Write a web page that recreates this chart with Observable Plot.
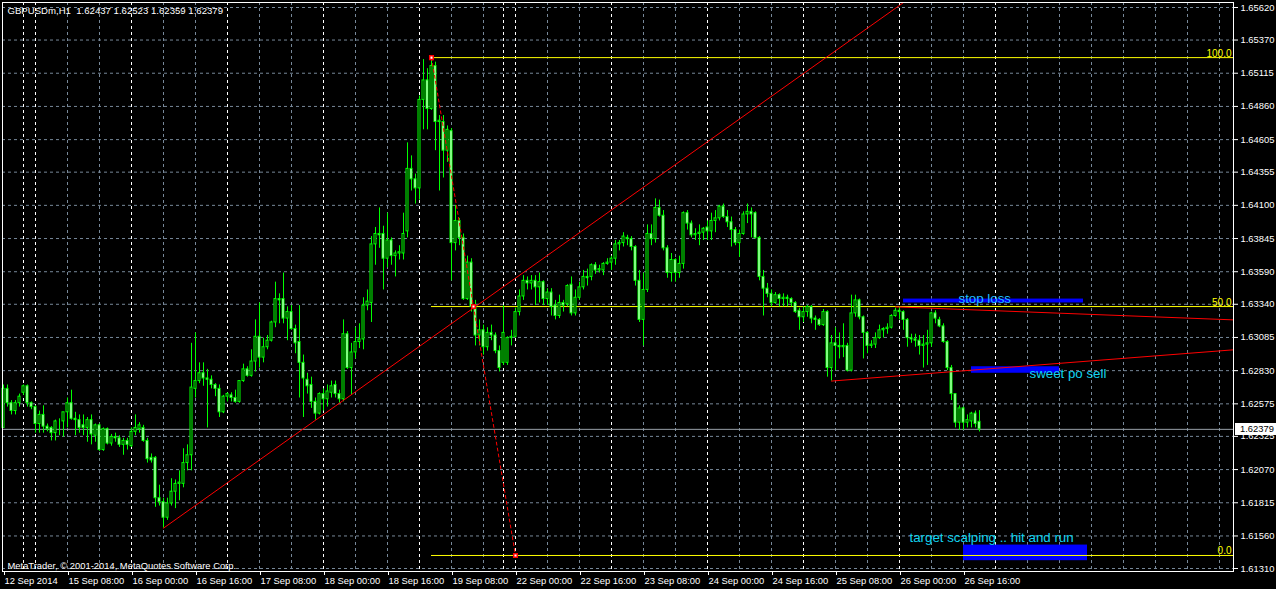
<!DOCTYPE html>
<html><head><meta charset="utf-8">
<script src="https://cdn.jsdelivr.net/npm/d3@7"></script>
<script src="https://cdn.jsdelivr.net/npm/@observablehq/plot@0.6"></script>
<style>
html,body{margin:0;padding:0;background:#000;}
#chart{width:1276px;height:589px;overflow:hidden;}
</style></head><body><div id="chart"></div>
<script>
const symbol = "GBPUSDm", timeframe = "H1";
const copyright = "MetaTrader, © 2001-2014, MetaQuotes Software Corp.";

const open = [
1.6239,1.6269,1.6258,1.6252,1.6258,1.6266,1.6271,1.6258,1.6255,1.6242,
1.6249,1.6240,1.6239,1.6235,1.6245,1.6244,1.6251,1.6258,1.6246,1.6245,
1.6241,1.6239,1.6245,1.6233,1.6241,1.6222,1.6238,1.6227,1.6232,1.6231,
1.6226,1.6229,1.6225,1.6236,1.6238,1.6239,1.6229,1.6216,1.6216,1.6185,
1.6182,1.6170,1.6181,1.6190,1.6196,1.6196,1.6212,1.6218,1.6269,1.6275,
1.6281,1.6277,1.6276,1.6272,1.6269,1.6251,1.6263,1.6264,1.6262,1.6259,
1.6275,1.6284,1.6279,1.6290,1.6309,1.6293,1.6301,1.6306,1.6320,1.6338,
1.6338,1.6323,1.6328,1.6315,1.6305,1.6289,1.6276,1.6272,1.6259,1.6250,
1.6265,1.6261,1.6266,1.6272,1.6265,1.6261,1.6311,1.6285,1.6297,1.6305,
1.6307,1.6333,1.6335,1.6380,1.6388,1.6388,1.6369,1.6383,1.6371,1.6373,
1.6373,1.6390,1.6438,1.6430,1.6423,1.6491,1.6506,1.6484,1.6517,1.6474,
1.6474,1.6452,1.6467,1.6381,1.6398,1.6385,1.6338,1.6366,1.6332,1.6310,
1.6314,1.6301,1.6312,1.6310,1.6298,1.6289,1.6289,1.6308,1.6309,1.6328,
1.6340,1.6352,1.6350,1.6352,1.6347,1.6351,1.6338,1.6343,1.6333,1.6325,
1.6335,1.6334,1.6349,1.6327,1.6339,1.6347,1.6355,1.6355,1.6364,1.6360,
1.6360,1.6365,1.6366,1.6369,1.6380,1.6381,1.6385,1.6384,1.6378,1.6352,
1.6322,1.6345,1.6388,1.6384,1.6408,1.6402,1.6377,1.6358,1.6368,1.6358,
1.6365,1.6404,1.6396,1.6387,1.6388,1.6389,1.6393,1.6390,1.6398,1.6400,
1.6409,1.6401,1.6397,1.6391,1.6381,1.6388,1.6403,1.6405,1.6404,1.6385,
1.6355,1.6346,1.6342,1.6335,1.6341,1.6338,1.6339,1.6338,1.6335,1.6329,
1.6324,1.6328,1.6332,1.6323,1.6322,1.6318,1.6328,1.6285,1.6304,1.6302,
1.6301,1.6302,1.6283,1.6327,1.6337,1.6324,1.6312,1.6302,1.6303,1.6308,
1.6314,1.6315,1.6316,1.6325,1.6329,1.6328,1.6322,1.6308,1.6307,1.6306,
1.6302,1.6303,1.6304,1.6327,1.6322,1.6317,1.6305,1.6285,1.6265,1.6243,
1.6254,1.6243,1.6244,1.6250,1.62437];

const high = [
1.6272,1.6272,1.6260,1.6260,1.6265,1.6272,1.6272,1.6259,1.6256,1.6252,
1.6256,1.6242,1.6240,1.6245,1.6246,1.6251,1.6262,1.6268,1.6251,1.6249,
1.6249,1.6247,1.6249,1.6242,1.6242,1.6239,1.6239,1.6234,1.6235,1.6233,
1.6231,1.6231,1.6239,1.6249,1.6243,1.6241,1.6231,1.6219,1.6217,1.6195,
1.6185,1.6185,1.6200,1.6199,1.6206,1.6223,1.6226,1.6304,1.6312,1.6289,
1.6289,1.6284,1.6279,1.6273,1.6272,1.6264,1.6266,1.6266,1.6268,1.6275,
1.6288,1.6286,1.6299,1.6322,1.6335,1.6308,1.6310,1.6321,1.6351,1.6342,
1.6358,1.6332,1.6333,1.6318,1.6333,1.6295,1.6281,1.6278,1.6262,1.6266,
1.6269,1.6272,1.6275,1.6275,1.6268,1.6322,1.6313,1.6304,1.6316,1.6319,
1.6339,1.6345,1.6386,1.6393,1.6408,1.6394,1.6404,1.6385,1.6375,1.6379,
1.6404,1.6458,1.6448,1.6434,1.6494,1.6522,1.6515,1.65235,1.6520,1.6479,
1.6479,1.6471,1.6469,1.6410,1.6400,1.6388,1.6371,1.6369,1.6337,1.6322,
1.6318,1.6316,1.6318,1.6312,1.6302,1.6333,1.6309,1.6314,1.6331,1.6345,
1.6356,1.6355,1.6356,1.6356,1.6358,1.6352,1.6346,1.6346,1.6337,1.6341,
1.6337,1.6349,1.6355,1.6345,1.6351,1.6360,1.6361,1.6365,1.6366,1.6364,
1.6366,1.6369,1.6371,1.6383,1.6383,1.6389,1.6387,1.6386,1.6379,1.6360,
1.6358,1.6395,1.6395,1.6415,1.6414,1.6406,1.6379,1.6373,1.6369,1.6371,
1.6405,1.6406,1.6398,1.6392,1.6395,1.6393,1.6398,1.6404,1.6406,1.6410,
1.6411,1.6406,1.6401,1.6393,1.6391,1.6405,1.6411,1.6408,1.6405,1.6386,
1.6360,1.6350,1.6345,1.6343,1.6342,1.6342,1.6341,1.6339,1.6336,1.6331,
1.6332,1.6333,1.6333,1.6325,1.6323,1.6330,1.6329,1.6310,1.6316,1.6312,
1.6319,1.6304,1.6341,1.6341,1.6338,1.6325,1.6313,1.6306,1.6312,1.6318,
1.6316,1.6319,1.6326,1.6331,1.6332,1.6329,1.6323,1.6311,1.6311,1.6310,
1.6310,1.6314,1.6328,1.6329,1.6324,1.6319,1.6306,1.6287,1.6265,1.6256,
1.6255,1.6249,1.6251,1.6252,1.62523];

const low = [
1.6239,1.6255,1.6249,1.6249,1.6255,1.6264,1.6255,1.6253,1.6235,1.6235,
1.6235,1.6236,1.6229,1.6229,1.6233,1.6232,1.6239,1.6245,1.6233,1.6235,
1.6233,1.6228,1.6226,1.6228,1.6221,1.6221,1.6226,1.6225,1.6228,1.6224,
1.6218,1.6222,1.6224,1.6233,1.6235,1.6228,1.6212,1.6212,1.6178,1.6179,
1.6162,1.6168,1.6179,1.6177,1.6183,1.6193,1.6206,1.6206,1.6262,1.6273,
1.6271,1.6239,1.6269,1.6263,1.6247,1.6250,1.6259,1.6259,1.6258,1.6258,
1.6274,1.6278,1.6278,1.6282,1.6285,1.6289,1.6299,1.6305,1.6316,1.6319,
1.6319,1.6306,1.6314,1.6296,1.6262,1.6247,1.6265,1.6254,1.6245,1.6249,
1.6252,1.6255,1.6262,1.6262,1.6258,1.6259,1.6284,1.6264,1.6292,1.6300,
1.6299,1.6329,1.6320,1.6364,1.6377,1.6345,1.6362,1.6364,1.6355,1.6368,
1.6368,1.6385,1.6421,1.6411,1.6414,1.6468,1.6468,1.6483,1.6452,1.6421,
1.6431,1.6443,1.6352,1.6375,1.6379,1.6337,1.6337,1.6328,1.6302,1.6302,
1.6295,1.6298,1.6306,1.6296,1.6282,1.6287,1.6287,1.6302,1.6308,1.6325,
1.6337,1.6345,1.6345,1.6333,1.6335,1.6333,1.6333,1.6325,1.6322,1.6323,
1.6328,1.6332,1.6325,1.6325,1.6337,1.6345,1.6348,1.6352,1.6357,1.6358,
1.6356,1.6364,1.6360,1.6364,1.6375,1.6378,1.6379,1.6375,1.6348,1.6320,
1.6302,1.6343,1.6379,1.6381,1.6401,1.6375,1.6354,1.6351,1.6351,1.6354,
1.6361,1.6391,1.6385,1.6383,1.6379,1.6383,1.6383,1.6383,1.6389,1.6398,
1.6400,1.6393,1.6378,1.6379,1.6370,1.6387,1.6396,1.6385,1.6384,1.6352,
1.6325,1.6339,1.6332,1.6334,1.6332,1.6332,1.6332,1.6332,1.6327,1.6314,
1.6320,1.6324,1.6319,1.6314,1.6317,1.6317,1.6278,1.6275,1.6283,1.6292,
1.6293,1.6282,1.6282,1.6324,1.6322,1.6292,1.6296,1.6300,1.6300,1.6307,
1.6308,1.6311,1.6315,1.6324,1.6322,1.6314,1.6301,1.6304,1.6301,1.6295,
1.6285,1.6287,1.6301,1.6319,1.6316,1.6304,1.6283,1.6260,1.6239,1.6237,
1.6237,1.6239,1.6239,1.6239,1.62359];

const close = [
1.6269,1.6258,1.6252,1.6258,1.6263,1.6271,1.6258,1.6255,1.6242,1.6249,
1.6240,1.6238,1.6235,1.6244,1.6245,1.6251,1.6258,1.6246,1.6245,1.6239,
1.6239,1.6245,1.6234,1.6241,1.6222,1.6238,1.6227,1.6232,1.6231,1.6226,
1.6229,1.6226,1.6236,1.6239,1.6241,1.6229,1.6215,1.6214,1.6185,1.6182,
1.6170,1.6181,1.6190,1.6196,1.6197,1.6212,1.6218,1.6270,1.6275,1.6281,
1.6277,1.6276,1.6272,1.6269,1.6251,1.6263,1.6265,1.6262,1.6259,1.6275,
1.6284,1.6279,1.6290,1.6309,1.6293,1.6301,1.6306,1.6320,1.6338,1.6337,
1.6323,1.6328,1.6315,1.6304,1.6289,1.6277,1.6271,1.6259,1.6250,1.6265,
1.6261,1.6267,1.6271,1.6265,1.6261,1.6311,1.6285,1.6297,1.6305,1.6307,
1.6333,1.6336,1.6380,1.6388,1.6387,1.6369,1.6383,1.6371,1.6373,1.6374,
1.6388,1.6438,1.6430,1.6423,1.6491,1.6506,1.6484,1.6517,1.6474,1.6475,
1.6452,1.6468,1.6381,1.6398,1.6385,1.6338,1.6366,1.6332,1.6310,1.6314,
1.6301,1.6312,1.6310,1.6298,1.6285,1.6312,1.6308,1.6309,1.6328,1.6340,
1.6352,1.6350,1.6352,1.6347,1.6351,1.6338,1.6343,1.6332,1.6325,1.6335,
1.6333,1.6348,1.6327,1.6339,1.6347,1.6355,1.6354,1.6364,1.6360,1.6361,
1.6365,1.6366,1.6369,1.6380,1.6381,1.6386,1.6384,1.6378,1.6352,1.6322,
1.6345,1.6388,1.6384,1.6408,1.6402,1.6377,1.6358,1.6368,1.6358,1.6365,
1.6404,1.6396,1.6387,1.6388,1.6389,1.6392,1.6390,1.6398,1.6400,1.6409,
1.6401,1.6397,1.6391,1.6381,1.6388,1.6403,1.6405,1.6403,1.6385,1.6355,
1.6346,1.6342,1.6335,1.6341,1.6338,1.6339,1.6338,1.6335,1.6328,1.6324,
1.6328,1.6332,1.6323,1.6322,1.6318,1.6328,1.6285,1.6304,1.6302,1.6301,
1.6302,1.6283,1.6327,1.6337,1.6324,1.6312,1.6302,1.6303,1.6308,1.6314,
1.6315,1.6316,1.6325,1.6329,1.6328,1.6322,1.6308,1.6307,1.6306,1.6302,
1.6303,1.6304,1.6327,1.6323,1.6317,1.6305,1.6285,1.6265,1.6243,1.6254,
1.6243,1.6245,1.6250,1.6242,1.62379];

// time axis: bar index of each label, and its text
const labelBars = [0,16,32,48,64,80,96,112,128,144,160,176,192,208,224,240];
const timeLabels = ["12 Sep 2014","15 Sep 08:00","16 Sep 00:00","16 Sep 16:00","17 Sep 08:00",
  "18 Sep 00:00","18 Sep 16:00","19 Sep 08:00","22 Sep 00:00","22 Sep 16:00","23 Sep 08:00",
  "24 Sep 00:00","24 Sep 16:00","25 Sep 08:00","26 Sep 00:00","26 Sep 16:00"];
// bars that open a new day (period separators)
const daySeparators = [5,8,32,56,80,104,125,128,152,176,200,224,248];
// price axis ticks
const priceTicks = [1.65620,1.65370,1.65115,1.64860,1.64605,1.64355,1.64100,1.63845,1.63590,
  1.63340,1.63085,1.62830,1.62575,1.62325,1.62070,1.61815,1.61560,1.61310];

// Fibonacci retracement: anchor bars and prices
const fibBars = [107, 128];
const fibPrices = [1.65235, 1.6141];
const fibLevelNames = ["100.0", "50.0", "0.0"];
const fibLevelRatios = [1, 0.5, 0];

// Trend line (bar, price anchors)
const trendBars = [40, 226];
const trendPrices = [1.6162, 1.6568];
// channel rays
const upperBars = [223, 307.5];
const upperPrices = [1.6332, 1.6322];
const lowerBars = [207, 307.5];
const lowerPrices = [1.6275, 1.6299];

// blue zones
const zoneFrom = [225, 242, 240];
const zoneTo = [270, 264, 271];
const zoneTop = [1.6338, 1.6286, 1.6149];
const zoneBottom = [1.6335, 1.6281, 1.6137];

// text notes
const noteText = ["stop loss", "sweet po sell", "target scalping .. hit and run"];
const noteBar = [238.75, 256.5, 226.5];
const notePrice = [1.6342, 1.6285, 1.6159];

// ---------------------------------------------------------------
const n = open.length;
const bars = d3.range(n).map(i => ({i, o: open[i], h: high[i], l: low[i], c: close[i]}));
const fmt5 = d3.format(".5f");
const last = n - 1;
const header = `${symbol},${timeframe}\u00a0\u00a0${fmt5(open[last])} ${fmt5(high[last])} ${fmt5(low[last])} ${fmt5(close[last])}`;
const bid = close[last];
const rightBar = 307.5;

const fibLevels = fibLevelNames.map((name, k) => ({
  name, price: fibPrices[1] + (fibPrices[0] - fibPrices[1]) * fibLevelRatios[k]
}));
const fibLine = fibBars.map((b, k) => ({b, p: fibPrices[k]}));
const fibPoints = [fibLine[0], {b: (fibBars[0] + fibBars[1]) / 2, p: (fibPrices[0] + fibPrices[1]) / 2}, fibLine[1]];
const rays = [
  ...trendBars.map((b, k) => ({z: "trend", b, p: trendPrices[k]})),
  ...upperBars.map((b, k) => ({z: "upper", b, p: upperPrices[k]})),
  ...lowerBars.map((b, k) => ({z: "lower", b, p: lowerPrices[k]}))
];
const zones = zoneFrom.map((f, k) => ({f, t: zoneTo[k], top: zoneTop[k], bot: zoneBottom[k]}));
const notes = noteText.map((t, k) => ({t, b: noteBar[k], p: notePrice[k]}));
const gridBars = d3.range(8, 308, 8);

const GRID = "#778899";
const LIME = "#00ff00";
const FONT = "'Liberation Sans', Arial, sans-serif";

const chart = Plot.plot({
  width: 1276, height: 589,
  marginLeft: 2, marginRight: 43, marginTop: 2, marginBottom: 18,
  style: {background: "#000", color: "#fff", fontFamily: FONT, fontSize: "9.4px"},
  x: {domain: [0, rightBar], range: [3, 1233]},
  y: {domain: [1.6131, 1.6562], range: [568, 7]},
  marks: [
    Plot.ruleY(priceTicks, {stroke: GRID, strokeDasharray: "3,3"}),
    Plot.ruleX(gridBars, {stroke: GRID, strokeDasharray: "3,3"}),
    Plot.ruleX(daySeparators, {stroke: "#fff", strokeDasharray: "3,3"}),
    Plot.ruleY([bid], {stroke: "#98a0a8"}),
    Plot.rect(zones, {x1: "f", x2: "t", y1: "bot", y2: "top", fill: "#0000ff"}),
    Plot.ruleY(fibLevels, {y: "price", x1: fibBars[0], x2: rightBar, stroke: "#ffff00"}),
    Plot.text(fibLevels, {y: "price", text: "name", frameAnchor: "right", textAnchor: "end",
      lineAnchor: "bottom", dx: -2, dy: -1, fill: "#ffff00", fontSize: 10}),
    // candles
    Plot.ruleX(bars, {x: "i", y1: "l", y2: "h", stroke: LIME}),
    Plot.rect(bars, {x1: d => d.i - 0.25, x2: d => d.i + 0.25, y1: "o", y2: "c",
      fill: d => d.c >= d.o ? "#000" : "#fff", stroke: LIME}),
    // drawn objects
    Plot.line(rays, {x: "b", y: "p", z: "z", stroke: "#ff0000", strokeWidth: 1, clip: true}),
    Plot.line(fibLine, {x: "b", y: "p", stroke: "#ff0000", strokeWidth: 1, strokeDasharray: "3,3"}),
    Plot.dot(fibPoints, {x: "b", y: "p", symbol: "square", r: 2, fill: "#fff", stroke: "#ff0000"}),
    Plot.text(notes, {x: "b", y: "p", text: "t", textAnchor: "start", lineAnchor: "top",
      fill: d => d.t === "stop loss" ? "#22bbff" : "#11d4f0", fontSize: 13.3}),
    // header and copyright
    Plot.text([header], {frameAnchor: "top-left", dx: 5, dy: 5, lineAnchor: "top", textAnchor: "start",
      fill: "#fff", fontSize: 9.6}),
    Plot.text([copyright], {frameAnchor: "bottom-left", dx: 5, dy: -3, lineAnchor: "bottom",
      textAnchor: "start", fill: "#fff", fontSize: 9.4}),
    // axes
    Plot.axisY(priceTicks, {anchor: "right", tickSize: 4, tickPadding: 3, tickFormat: fmt5,
      label: null, fill: "#fff", stroke: "#fff", fontSize: 9.4}),
    Plot.axisX(labelBars, {anchor: "bottom", tickSize: 4, tickPadding: 2, textAnchor: "start", dx: 1,
      tickFormat: d => timeLabels[labelBars.indexOf(d)], label: null, fill: "#fff", stroke: "#fff", fontSize: 9.4}),
    Plot.frame({stroke: "#fff"})
  ]
});

document.getElementById("chart").appendChild(chart);

// bid price marker on the price scale (covers the neighbouring tick label, as in the terminal)
const yb = chart.scale("y").apply(bid);
const g = d3.select(chart).append("g");
g.append("rect").attr("x", 1235).attr("y", Math.round(yb) - 6).attr("width", 41).attr("height", 12).attr("fill", "#fff");
g.append("text").attr("x", 1240).attr("y", yb).attr("dy", "0.35em").attr("fill", "#000")
  .attr("text-anchor", "start").attr("font-family", FONT).attr("font-size", 9.4).text(fmt5(bid));
</script>
</body></html>
